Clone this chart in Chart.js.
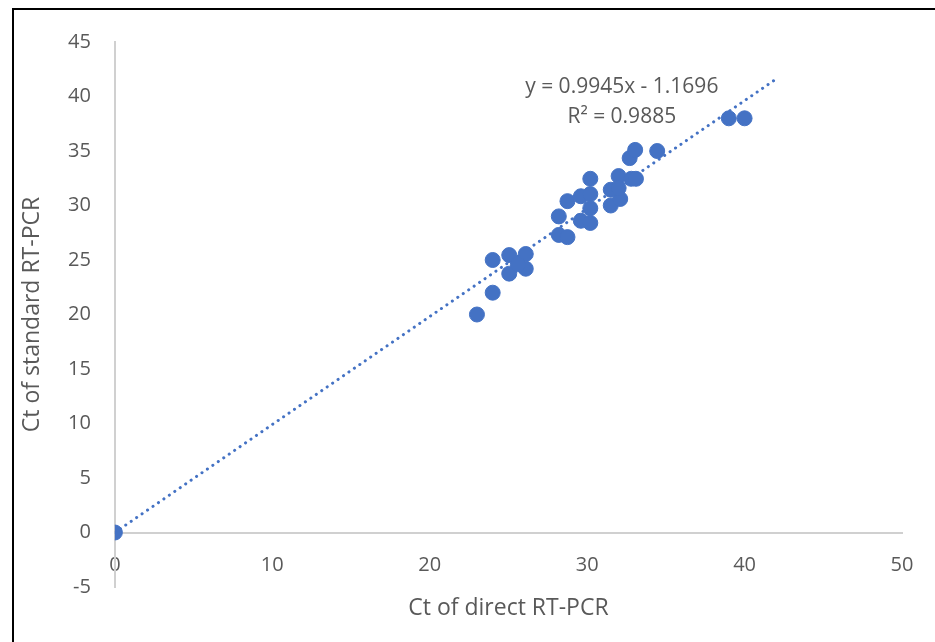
<!DOCTYPE html>
<html lang="en">
<head>
    <meta charset="UTF-8">
    <title>Ct of direct vs standard RT-PCR</title>
    <script src="https://cdn.jsdelivr.net/npm/chart.js"></script>
    <style>
        html, body { margin: 0; padding: 0; background: #fff; }
        .frame { position: absolute; left: 12px; top: 8px; width: 940px; height: 650px;
                 border-left: 2px solid #000; border-top: 2px solid #000; }
        #ctChart { position: absolute; left: 0; top: 0; }
    </style>
</head>
<body>
    <div class="frame"></div>
    <canvas id="ctChart" width="935" height="642"></canvas>

    <script>
        // values
        const directCt   = [0, 23.0, 24.0, 24.0, 25.05, 26.1, 25.05, 26.1, 25.6, 28.2, 28.75, 28.2, 28.75, 29.6, 30.2, 30.2, 29.6, 30.2, 30.2, 31.5, 32.1, 31.5, 32.0, 32.0, 32.8, 33.1, 32.7, 33.05, 34.45, 39.0, 40.0];
        const standardCt = [0, 20.0, 22.0, 25.0, 25.45, 25.55, 23.75, 24.2, 24.6, 27.3, 27.1, 29.0, 30.4, 30.85, 31.05, 32.45, 28.6, 28.4, 29.75, 30.0, 30.6, 31.45, 32.7, 31.6, 32.45, 32.45, 34.35, 35.1, 35.0, 38.0, 38.0];

        // trendline ends as drawn
        const trendX = [0, 41.9];
        const trendY = [0, 41.5];

        const equationText = ['y = 0.9945x - 1.1696', 'R² = 0.9885'];
        const equationAt = { x: 32.2, y: 40.9 };

        const textGrey = '#595959';
        const axisGrey = '#d0d0d0';
        const blue = '#4472C4';

        // equation label placed in data units
        const equationLabel = {
            id: 'equationLabel',
            afterDatasetsDraw(chart) {
                const ctx = chart.ctx;
                const px = chart.scales.x.getPixelForValue(equationAt.x);
                const py = chart.scales.y.getPixelForValue(equationAt.y);
                ctx.save();
                ctx.font = '21px "Open Sans"';
                ctx.fillStyle = textGrey;
                ctx.textAlign = 'center';
                ctx.textBaseline = 'middle';
                equationText.forEach((t, i) => ctx.fillText(t, px, py + i * 30));
                ctx.restore();
            }
        };

        const ctx = document.getElementById('ctChart').getContext('2d');
        new Chart(ctx, {
            type: 'scatter',
            data: {
                datasets: [{
                    label: 'Ct',
                    data: directCt.map((x, i) => ({ x: x, y: standardCt[i] })),
                    backgroundColor: blue,
                    borderColor: blue,
                    pointRadius: 7.5,
                    pointHoverRadius: 7.5
                }, {
                    type: 'line',
                    label: 'Linear',
                    data: trendX.map((x, i) => ({ x: x, y: trendY[i] })),
                    borderColor: blue,
                    borderWidth: 3,
                    borderCapStyle: 'round',
                    borderDash: [0.1, 6.5],
                    pointRadius: 0,
                    fill: false
                }]
            },
            options: {
                responsive: false,
                animation: false,
                layout: { padding: { top: 42, right: 33, left: 21, bottom: 22 } },
                plugins: {
                    legend: { display: false },
                    tooltip: { enabled: false }
                },
                scales: {
                    x: {
                        type: 'linear',
                        position: { y: 0 },
                        min: 0, max: 50,
                        grid: { display: false, drawTicks: false },
                        border: { display: true, color: axisGrey, width: 2 },
                        ticks: {
                            stepSize: 10,
                            padding: 21,
                            color: textGrey,
                            font: { family: 'Open Sans', size: 20 }
                        }
                    },
                    // bottom axis that only carries the x title
                    xTitle: {
                        type: 'linear',
                        position: 'bottom',
                        min: 0, max: 50,
                        grid: { display: false, drawTicks: false },
                        border: { display: false },
                        ticks: { display: false },
                        title: {
                            display: true,
                            text: 'Ct of direct RT-PCR',
                            color: textGrey,
                            font: { family: 'Open Sans', size: 23, lineHeight: 1 },
                            padding: { top: 10, bottom: 0 }
                        }
                    },
                    y: {
                        type: 'linear',
                        min: -5, max: 45,
                        grid: { display: false, drawTicks: false },
                        border: { display: true, color: axisGrey, width: 2 },
                        ticks: {
                            stepSize: 5,
                            padding: 24,
                            color: textGrey,
                            font: { family: 'Open Sans', size: 20 }
                        },
                        title: {
                            display: true,
                            text: 'Ct of standard RT-PCR',
                            color: textGrey,
                            font: { family: 'Open Sans', size: 23, lineHeight: 1 },
                            padding: { top: 0, bottom: 0 }
                        }
                    }
                }
            },
            plugins: [equationLabel]
        });
    </script>
</body>
</html>
